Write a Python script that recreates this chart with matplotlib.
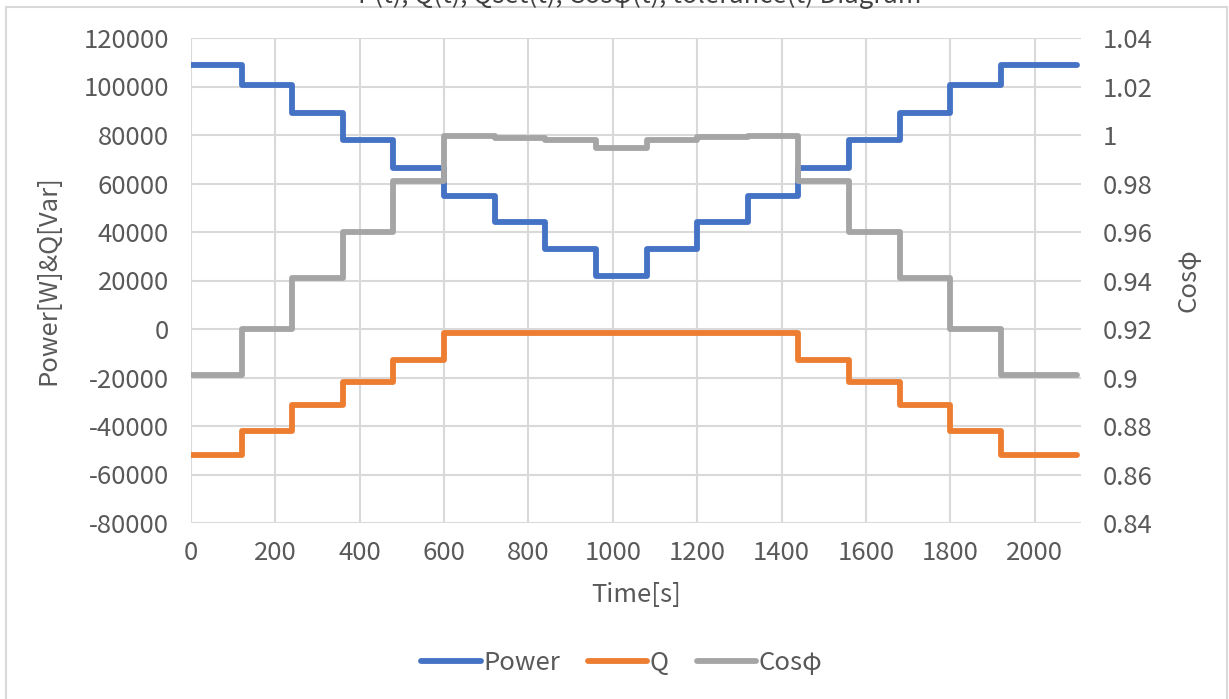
import matplotlib.pyplot as plt
import matplotlib.ticker as mticker
from matplotlib.patches import Rectangle

plt.rcParams['font.family'] = ['Noto Sans CJK SC', 'DejaVu Sans']

# step start times [s] and measured levels
t = [0, 120, 240, 360, 480, 600, 720, 840, 960, 1080, 1200, 1320, 1440,
     1560, 1680, 1800, 1920, 2100]
power = [109000, 100500, 89000, 78000, 66500, 55000, 44000, 33000, 22000,
         33000, 44000, 55000, 66500, 78000, 89000, 100500, 109000, 109000]
q = [-52000, -42000, -31500, -22000, -12800, -1500, -1500, -1500, -1500,
     -1500, -1500, -1500, -12800, -22000, -31500, -42000, -52000, -52000]
cosphi = [0.901, 0.920, 0.941, 0.960, 0.981, 0.9995, 0.9988, 0.998, 0.9945,
          0.998, 0.999, 0.9995, 0.981, 0.960, 0.941, 0.920, 0.901, 0.901]

BLUE = '#4472C4'
ORANGE = '#ED7D31'
GRAY = '#A5A5A5'
TXT = '#595959'
GRID = '#D9D9D9'
FS = 18.5

W, H = 1229, 699
fig = plt.figure(figsize=(W / 100, H / 100), dpi=100)
ax = fig.add_axes([191 / W, 1 - 523 / H, (1081 - 191) / W, (523 - 38) / H])
ax2 = ax.twinx()

lw = 4.2
l1, = ax.plot(t, power, drawstyle='steps-post', color=BLUE, lw=lw,
              solid_capstyle='round', label='Power')
l2, = ax.plot(t, q, drawstyle='steps-post', color=ORANGE, lw=lw,
              solid_capstyle='round', label='Q')
l3, = ax2.plot(t, cosphi, drawstyle='steps-post', color=GRAY, lw=lw,
               solid_capstyle='round', label='Cosφ')

ax.set_xlim(0, 2110)
ax.set_ylim(-80000, 120000)
ax2.set_ylim(0.84, 1.04)
ax.xaxis.set_major_locator(mticker.MultipleLocator(200))
ax.yaxis.set_major_locator(mticker.MultipleLocator(20000))
ax2.yaxis.set_major_locator(mticker.MultipleLocator(0.02))
ax.yaxis.set_major_formatter(mticker.FuncFormatter(lambda v, p: f'{v:.0f}'))
ax2.yaxis.set_major_formatter(mticker.FuncFormatter(lambda v, p: f'{round(v, 2):g}'))

ax.grid(True, color=GRID, lw=1.5)
ax.set_axisbelow(True)
for a in (ax, ax2):
    for s in a.spines.values():
        s.set_visible(False)
    a.tick_params(length=0, labelsize=FS, colors=TXT, pad=16)
ax.tick_params(axis='x', pad=12)

ax.set_xlabel('Time[s]', fontsize=FS, color=TXT, labelpad=12)
ax.set_ylabel('Power[W]&Q[Var]', fontsize=FS, color=TXT, labelpad=16)
ax2.set_ylabel('Cosφ', fontsize=FS, color=TXT, labelpad=16)

fig.legend(handles=[l1, l2, l3], loc='center', bbox_to_anchor=(622 / W, 1 - 663 / H),
           ncol=3, frameon=False, fontsize=FS, labelcolor=TXT, handlelength=2.3,
           handletextpad=0.1, columnspacing=1.1)

fig.text(640 / W, 1 + 4 / H, 'P(t), Q(t), Qset(t), Cosφ(t), tolerance(t) Diagram',
         ha='center', va='center', fontsize=FS, color='#404040')

fig.patches.append(Rectangle((6 / W, -0.01), (1227 - 6) / W, 1 - 7 / H + 0.01,
                             transform=fig.transFigure, fill=False,
                             edgecolor=GRID, lw=1.5))

fig.savefig('out.png', dpi=100)
